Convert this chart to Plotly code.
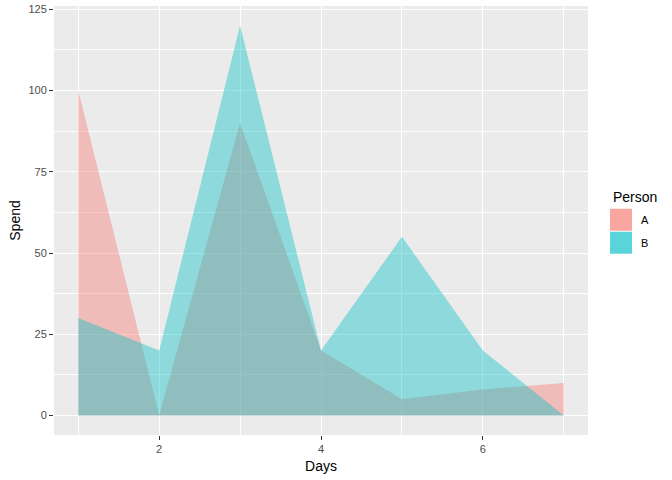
import plotly.graph_objects as go

days = [1, 2, 3, 4, 5, 6, 7]
spend_a = [100, 0, 90, 20, 5, 8, 10]
spend_b = [30, 20, 120, 20, 55, 20, 0]
persons = ["A", "B"]
colors = {"A": "rgba(248,118,109,0.4)", "B": "rgba(0,191,196,0.4)"}
solid = {"A": "rgba(248,118,109,0.65)", "B": "rgba(0,191,196,0.65)"}

fig = go.Figure()
for p, vals in zip(persons, [spend_a, spend_b]):
    fig.add_trace(go.Scatter(x=days, y=vals, mode="none", fill="tozeroy", name=p,
                             fillcolor=colors[p], showlegend=False, hoverinfo="skip"))

# manual legend (ggplot style)
L, R, T, B = 54, 588, 6, 435.5
W, H = R - L, B - T
def px(x):
    return (x - L) / W
def py(y):
    return (B - y) / H

shapes = []
annotations = [dict(text="Person", x=px(611), y=py(197), xref="paper", yref="paper",
                    xanchor="left", yanchor="middle", showarrow=False,
                    font=dict(size=14, color="black"))]
for i, p in enumerate(persons):
    top = 209 + i * 23
    shapes.append(dict(type="rect", xref="paper", yref="paper",
                       x0=px(610), x1=px(632), y0=py(top), y1=py(top + 22),
                       fillcolor=solid[p], line=dict(width=0), layer="above"))
    annotations.append(dict(text=p, x=px(639), y=py(top + 11), xref="paper", yref="paper",
                            xanchor="left", yanchor="middle", showarrow=False,
                            font=dict(size=11, color="black")))

font = "Liberation Sans, Arial, sans-serif"
fig.update_layout(
    width=672, height=480,
    margin=dict(l=L, r=672 - R, t=T, b=480 - B),
    paper_bgcolor="white", plot_bgcolor="#EBEBEB",
    font=dict(family=font, size=11, color="#4D4D4D"),
    showlegend=False,
    shapes=shapes, annotations=annotations,
    xaxis=dict(range=[0.7, 7.3], tickvals=[2, 4, 6], showgrid=True, gridcolor="white",
               gridwidth=1.1, zeroline=False, ticks="outside", ticklen=4, automargin=False,
               tickcolor="#333333", tickfont=dict(size=11, color="#4D4D4D"),
               title=dict(text="Days", font=dict(size=14, color="black"), standoff=6),
               minor=dict(tickvals=[1, 3, 5, 7], showgrid=True, gridcolor="white", gridwidth=0.5)),
    yaxis=dict(range=[-6, 126], tickvals=[0, 25, 50, 75, 100, 125], showgrid=True,
               gridcolor="white", gridwidth=1.1, zeroline=False, ticks="outside", ticklen=4,
               automargin=False,
               tickcolor="#333333", tickfont=dict(size=11, color="#4D4D4D"),
               title=dict(text="Spend", font=dict(size=14, color="black"), standoff=4),
               minor=dict(tickvals=[12.5, 37.5, 62.5, 87.5, 112.5], showgrid=True,
                          gridcolor="white", gridwidth=0.5)),
)
fig.write_html("out.html", config={"displayModeBar": False},
               post_script="document.body.style.margin='0';")
